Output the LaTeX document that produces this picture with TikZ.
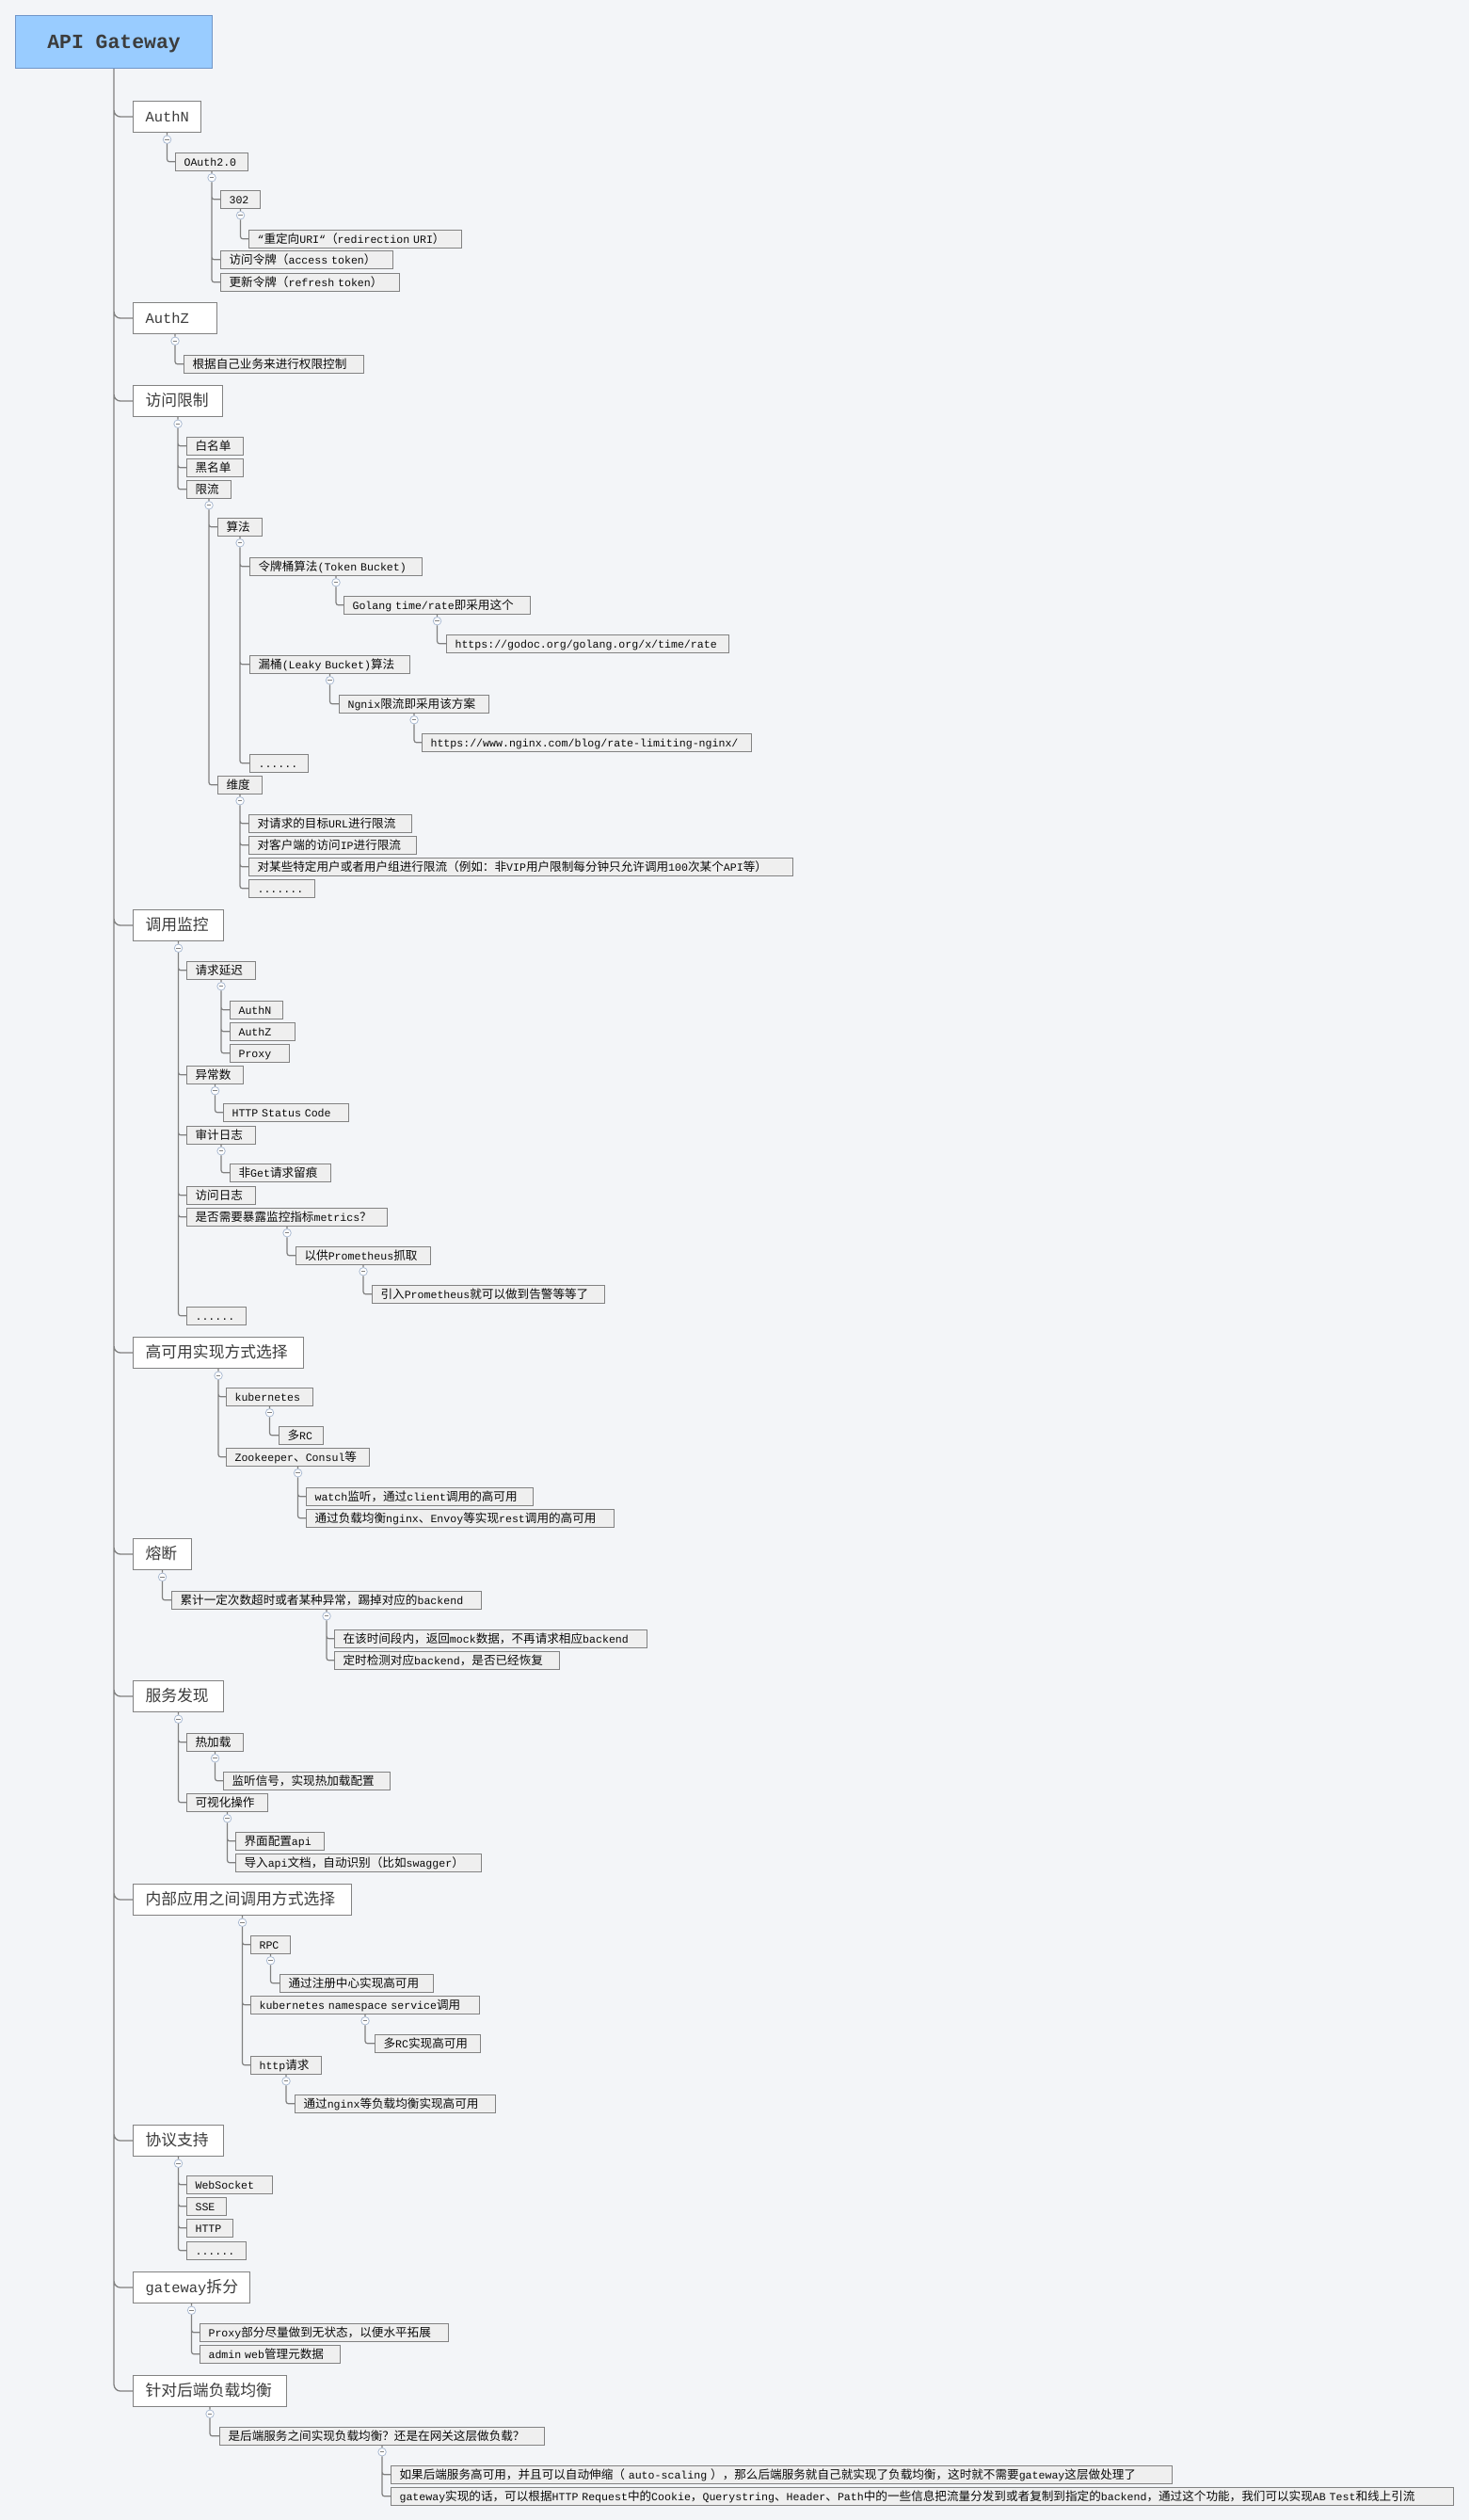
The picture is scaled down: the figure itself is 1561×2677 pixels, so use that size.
\documentclass[tikz,border=0pt]{standalone}
\usepackage{fontspec}
\usetikzlibrary{positioning}
\newfontfamily\latfam[Scale=0.92]{Liberation Mono}
\newfontfamily\cjkfam{Noto Sans CJK SC}
% switch to the CJK face for Han characters and full-width punctuation
\XeTeXinterchartokenstate=1
\newXeTeXintercharclass\hanclass
\newcount\hanpos
\hanpos="2E80 \loop\XeTeXcharclass\hanpos=\hanclass\ifnum\hanpos<"9FFF\advance\hanpos 1 \repeat
\hanpos="FF00 \loop\XeTeXcharclass\hanpos=\hanclass\ifnum\hanpos<"FFEF\advance\hanpos 1 \repeat
\XeTeXinterchartoks 0 \hanclass = {\cjkfam}
\XeTeXinterchartoks 4095 \hanclass = {\cjkfam}
\XeTeXinterchartoks \hanclass 0 = {\latfam}
\XeTeXinterchartoks 4095 0 = {\latfam}
\newcommand\kidfont{\fontsize{12.6}{14}\selectfont\latfam}
\newcommand\topicfont{\fontsize{16.8}{20}\selectfont\latfam}
\newcommand\rootfont{\fontsize{23.3}{28}\selectfont\latfam\bfseries}
\definecolor{bgcol}{RGB}{243,245,248}
\definecolor{rootfill}{RGB}{153,204,255}
\definecolor{rootline}{RGB}{112,150,200}
\definecolor{boxline}{RGB}{130,130,130}
\definecolor{kidfill}{RGB}{239,239,239}
\definecolor{wire}{RGB}{128,128,128}
\definecolor{foldline}{RGB}{170,186,210}
\definecolor{inkcol}{RGB}{10,10,10}
\definecolor{topicink}{RGB}{60,60,60}

\begin{document}
\begin{tikzpicture}[x=1pt, y=-1pt,
  gwbox/.style={draw=rootline, fill=rootfill, line width=1.1pt, anchor=north west, minimum width=209pt, minimum height=56pt, font=\rootfont, text=topicink, text height=13pt, text depth=0pt},
  topic/.style={draw=boxline, fill=white, line width=1.1pt, anchor=north west, inner xsep=13pt, inner ysep=0pt, minimum height=33pt, text height=12pt, text depth=0.4pt, text width=#1pt-26pt, align=left, font=\topicfont, text=topicink, execute at begin node=\hbox\bgroup, execute at end node=\egroup},
  kid/.style={draw=boxline, fill=kidfill, line width=1.1pt, anchor=north west, inner xsep=9pt, inner ysep=0pt, minimum height=18.5pt, text height=10pt, text depth=1.3pt, text width=#1pt-18pt, align=left, font=\kidfont, text=inkcol, execute at begin node=\hbox\bgroup, execute at end node=\egroup},
  fold/.style={circle, draw=foldline, fill=white, line width=0.8pt, minimum size=8.5pt, inner sep=0pt, below=2.5pt of #1,
    path picture={\draw[wire, line width=0.8pt] ([xshift=-2.4pt]path picture bounding box.center) -- ([xshift=2.4pt]path picture bounding box.center);}},
  trunk/.style={draw=wire, line width=1.3pt, rounded corners=7pt},
  branch/.style={draw=wire, line width=1.2pt, rounded corners=2.5pt}]
  \path[use as bounding box, fill=bgcol] (0,0) rectangle (1561,2677);

  \node[gwbox] (gw) at (16,16) {API Gateway};

  \node[topic=72] (authn) at (141,107) {AuthN};
  \node[topic=89] (authz) at (141,321) {AuthZ};
  \node[topic=95] (acl) at (141,409) {访问限制};
  \node[topic=96] (mon) at (141,966) {调用监控};
  \node[topic=181] (ha) at (141,1420) {高可用实现方式选择};
  \node[topic=62] (fuse) at (141,1634) {熔断};
  \node[topic=96] (disc) at (141,1785) {服务发现};
  \node[topic=232] (call) at (141,2001) {内部应用之间调用方式选择};
  \node[topic=96] (proto) at (141,2257) {协议支持};
  \node[topic=124] (split) at (141,2413) {gateway拆分};
  \node[topic=163] (lb) at (141,2523) {针对后端负载均衡};

  % AuthN
  \node[kid=77] (oauth) at (186,162) {OAuth2.0};
  \node[kid=42] (k302) at (234,202) {302};
  \node[kid=226] (redir) at (264,244) {“重定向URI“（redirection URI）};
  \node[kid=183] (access) at (234,266) {访问令牌（access token）};
  \node[kid=190] (refresh) at (234,290) {更新令牌（refresh token）};
  % AuthZ
  \node[kid=191] (perm) at (195,377) {根据自己业务来进行权限控制};
  % 访问限制
  \node[kid=60] (white) at (198,464) {白名单};
  \node[kid=60] (black) at (198,487) {黑名单};
  \node[kid=47] (limit) at (198,510) {限流};
  \node[kid=47] (algo) at (231,550) {算法};
  \node[kid=183] (token) at (265,592) {令牌桶算法(Token Bucket)};
  \node[kid=198] (golang) at (365,633) {Golang time/rate即采用这个};
  \node[kid=300] (godoc) at (474,674) {https://godoc.org/golang.org/x/time/rate};
  \node[kid=170] (leaky) at (265,696) {漏桶(Leaky Bucket)算法};
  \node[kid=159] (ngnix) at (360,738) {Ngnix限流即采用该方案};
  \node[kid=350] (ngxurl) at (448,779) {https://www.nginx.com/blog/rate-limiting-nginx/};
  \node[kid=62] (algomore) at (265,801) {......};
  \node[kid=47] (dim) at (231,824) {维度};
  \node[kid=173] (byurl) at (264,865) {对请求的目标URL进行限流};
  \node[kid=178] (byip) at (264,888) {对客户端的访问IP进行限流};
  \node[kid=578] (byuser) at (264,911) {对某些特定用户或者用户组进行限流（例如：非VIP用户限制每分钟只允许调用100次某个API等）};
  \node[kid=70] (dimmore) at (264,934) {.......};
  % 调用监控
  \node[kid=73] (lat) at (198,1021) {请求延迟};
  \node[kid=56] (latn) at (244,1063) {AuthN};
  \node[kid=69] (latz) at (244,1086) {AuthZ};
  \node[kid=63] (latp) at (244,1109) {Proxy};
  \node[kid=60] (errs) at (198,1132) {异常数};
  \node[kid=133] (code) at (237,1172) {HTTP Status Code};
  \node[kid=73] (audit) at (198,1196) {审计日志};
  \node[kid=107] (nonget) at (244,1236) {非Get请求留痕};
  \node[kid=73] (alog) at (198,1260) {访问日志};
  \node[kid=213] (metrics) at (198,1283) {是否需要暴露监控指标metrics？};
  \node[kid=143] (prom) at (314,1324) {以供Prometheus抓取};
  \node[kid=247] (alert) at (395,1365) {引入Prometheus就可以做到告警等等了};
  \node[kid=63] (monmore) at (198,1388) {......};
  % 高可用
  \node[kid=92] (k8s) at (240,1474) {kubernetes};
  \node[kid=47] (multirc) at (296,1515) {多RC};
  \node[kid=152] (zk) at (240,1538) {Zookeeper、Consul等};
  \node[kid=241] (watch) at (325,1580) {watch监听，通过client调用的高可用};
  \node[kid=327] (viaproxy) at (325,1603) {通过负载均衡nginx、Envoy等实现rest调用的高可用};
  % 熔断
  \node[kid=329] (trip) at (182,1690) {累计一定次数超时或者某种异常，踢掉对应的backend};
  \node[kid=332] (mock) at (355,1731) {在该时间段内，返回mock数据，不再请求相应backend};
  \node[kid=239] (probe) at (355,1754) {定时检测对应backend，是否已经恢复};
  % 服务发现
  \node[kid=60] (hot) at (198,1841) {热加载};
  \node[kid=177] (signal) at (237,1882) {监听信号，实现热加载配置};
  \node[kid=86] (visual) at (198,1905) {可视化操作};
  \node[kid=94] (uiapi) at (250,1946) {界面配置api};
  \node[kid=261] (swagger) at (250,1969) {导入api文档，自动识别（比如swagger）};
  % 内部调用
  \node[kid=42] (rpc) at (266,2056) {RPC};
  \node[kid=163] (registry) at (297,2097) {通过注册中心实现高可用};
  \node[kid=243] (ns) at (266,2120) {kubernetes namespace service调用};
  \node[kid=112] (nsrc) at (398,2161) {多RC实现高可用};
  \node[kid=75] (http) at (266,2184) {http请求};
  \node[kid=213] (httplb) at (313,2225) {通过nginx等负载均衡实现高可用};
  % 协议支持
  \node[kid=91] (ws) at (198,2311) {WebSocket};
  \node[kid=42] (sse) at (198,2334) {SSE};
  \node[kid=49] (httpp) at (198,2357) {HTTP};
  \node[kid=63] (protomore) at (198,2381) {......};
  % gateway拆分
  \node[kid=264] (stateless) at (212,2468) {Proxy部分尽量做到无状态，以便水平拓展};
  \node[kid=149] (admin) at (212,2491) {admin web管理元数据};
  % 负载均衡
  \node[kid=345] (where) at (233,2578) {是后端服务之间实现负载均衡？还是在网关这层做负载？};
  \node[kid=830] (self) at (415,2619) {如果后端服务高可用，并且可以自动伸缩（ auto-scaling ），那么后端服务就自己就实现了负载均衡，这时就不需要gateway这层做处理了};
  \node[kid=1129] (route) at (415,2642) {gateway实现的话，可以根据HTTP Request中的Cookie，Querystring、Header、Path中的一些信息把流量分发到或者复制到指定的backend，通过这个功能，我们可以实现AB Test和线上引流};

  \node[fold=authn] (authn-f) {};
  \node[fold=oauth] (oauth-f) {};
  \node[fold=k302] (k302-f) {};
  \node[fold=authz] (authz-f) {};
  \node[fold=acl] (acl-f) {};
  \node[fold=limit] (limit-f) {};
  \node[fold=algo] (algo-f) {};
  \node[fold=token] (token-f) {};
  \node[fold=golang] (golang-f) {};
  \node[fold=leaky] (leaky-f) {};
  \node[fold=ngnix] (ngnix-f) {};
  \node[fold=dim] (dim-f) {};
  \node[fold=mon] (mon-f) {};
  \node[fold=lat] (lat-f) {};
  \node[fold=errs] (errs-f) {};
  \node[fold=audit] (audit-f) {};
  \node[fold=metrics] (metrics-f) {};
  \node[fold=prom] (prom-f) {};
  \node[fold=ha] (ha-f) {};
  \node[fold=k8s] (k8s-f) {};
  \node[fold=zk] (zk-f) {};
  \node[fold=fuse] (fuse-f) {};
  \node[fold=trip] (trip-f) {};
  \node[fold=disc] (disc-f) {};
  \node[fold=hot] (hot-f) {};
  \node[fold=visual] (visual-f) {};
  \node[fold=call] (call-f) {};
  \node[fold=rpc] (rpc-f) {};
  \node[fold=ns] (ns-f) {};
  \node[fold=http] (http-f) {};
  \node[fold=proto] (proto-f) {};
  \node[fold=split] (split-f) {};
  \node[fold=lb] (lb-f) {};
  \node[fold=where] (where-f) {};

  \draw[trunk] (gw) |- (authn) (gw) |- (authz) (gw) |- (acl) (gw) |- (mon) (gw) |- (ha) (gw) |- (fuse)
    (gw) |- (disc) (gw) |- (call) (gw) |- (proto) (gw) |- (split) (gw) |- (lb);

  \draw[branch] (authn) -- (authn-f) (authn-f) |- (oauth);
  \draw[branch] (oauth) -- (oauth-f) (oauth-f) |- (k302) (oauth-f) |- (access) (oauth-f) |- (refresh);
  \draw[branch] (k302) -- (k302-f) (k302-f) |- (redir);
  \draw[branch] (authz) -- (authz-f) (authz-f) |- (perm);
  \draw[branch] (acl) -- (acl-f) (acl-f) |- (white) (acl-f) |- (black) (acl-f) |- (limit);
  \draw[branch] (limit) -- (limit-f) (limit-f) |- (algo) (limit-f) |- (dim);
  \draw[branch] (algo) -- (algo-f) (algo-f) |- (token) (algo-f) |- (leaky) (algo-f) |- (algomore);
  \draw[branch] (token) -- (token-f) (token-f) |- (golang);
  \draw[branch] (golang) -- (golang-f) (golang-f) |- (godoc);
  \draw[branch] (leaky) -- (leaky-f) (leaky-f) |- (ngnix);
  \draw[branch] (ngnix) -- (ngnix-f) (ngnix-f) |- (ngxurl);
  \draw[branch] (dim) -- (dim-f) (dim-f) |- (byurl) (dim-f) |- (byip) (dim-f) |- (byuser) (dim-f) |- (dimmore);
  \draw[branch] (mon) -- (mon-f) (mon-f) |- (lat) (mon-f) |- (errs) (mon-f) |- (audit) (mon-f) |- (alog)
    (mon-f) |- (metrics) (mon-f) |- (monmore);
  \draw[branch] (lat) -- (lat-f) (lat-f) |- (latn) (lat-f) |- (latz) (lat-f) |- (latp);
  \draw[branch] (errs) -- (errs-f) (errs-f) |- (code);
  \draw[branch] (audit) -- (audit-f) (audit-f) |- (nonget);
  \draw[branch] (metrics) -- (metrics-f) (metrics-f) |- (prom);
  \draw[branch] (prom) -- (prom-f) (prom-f) |- (alert);
  \draw[branch] (ha) -- (ha-f) (ha-f) |- (k8s) (ha-f) |- (zk);
  \draw[branch] (k8s) -- (k8s-f) (k8s-f) |- (multirc);
  \draw[branch] (zk) -- (zk-f) (zk-f) |- (watch) (zk-f) |- (viaproxy);
  \draw[branch] (fuse) -- (fuse-f) (fuse-f) |- (trip);
  \draw[branch] (trip) -- (trip-f) (trip-f) |- (mock) (trip-f) |- (probe);
  \draw[branch] (disc) -- (disc-f) (disc-f) |- (hot) (disc-f) |- (visual);
  \draw[branch] (hot) -- (hot-f) (hot-f) |- (signal);
  \draw[branch] (visual) -- (visual-f) (visual-f) |- (uiapi) (visual-f) |- (swagger);
  \draw[branch] (call) -- (call-f) (call-f) |- (rpc) (call-f) |- (ns) (call-f) |- (http);
  \draw[branch] (rpc) -- (rpc-f) (rpc-f) |- (registry);
  \draw[branch] (ns) -- (ns-f) (ns-f) |- (nsrc);
  \draw[branch] (http) -- (http-f) (http-f) |- (httplb);
  \draw[branch] (proto) -- (proto-f) (proto-f) |- (ws) (proto-f) |- (sse) (proto-f) |- (httpp) (proto-f) |- (protomore);
  \draw[branch] (split) -- (split-f) (split-f) |- (stateless) (split-f) |- (admin);
  \draw[branch] (lb) -- (lb-f) (lb-f) |- (where);
  \draw[branch] (where) -- (where-f) (where-f) |- (self) (where-f) |- (route);
\end{tikzpicture}
\end{document}
